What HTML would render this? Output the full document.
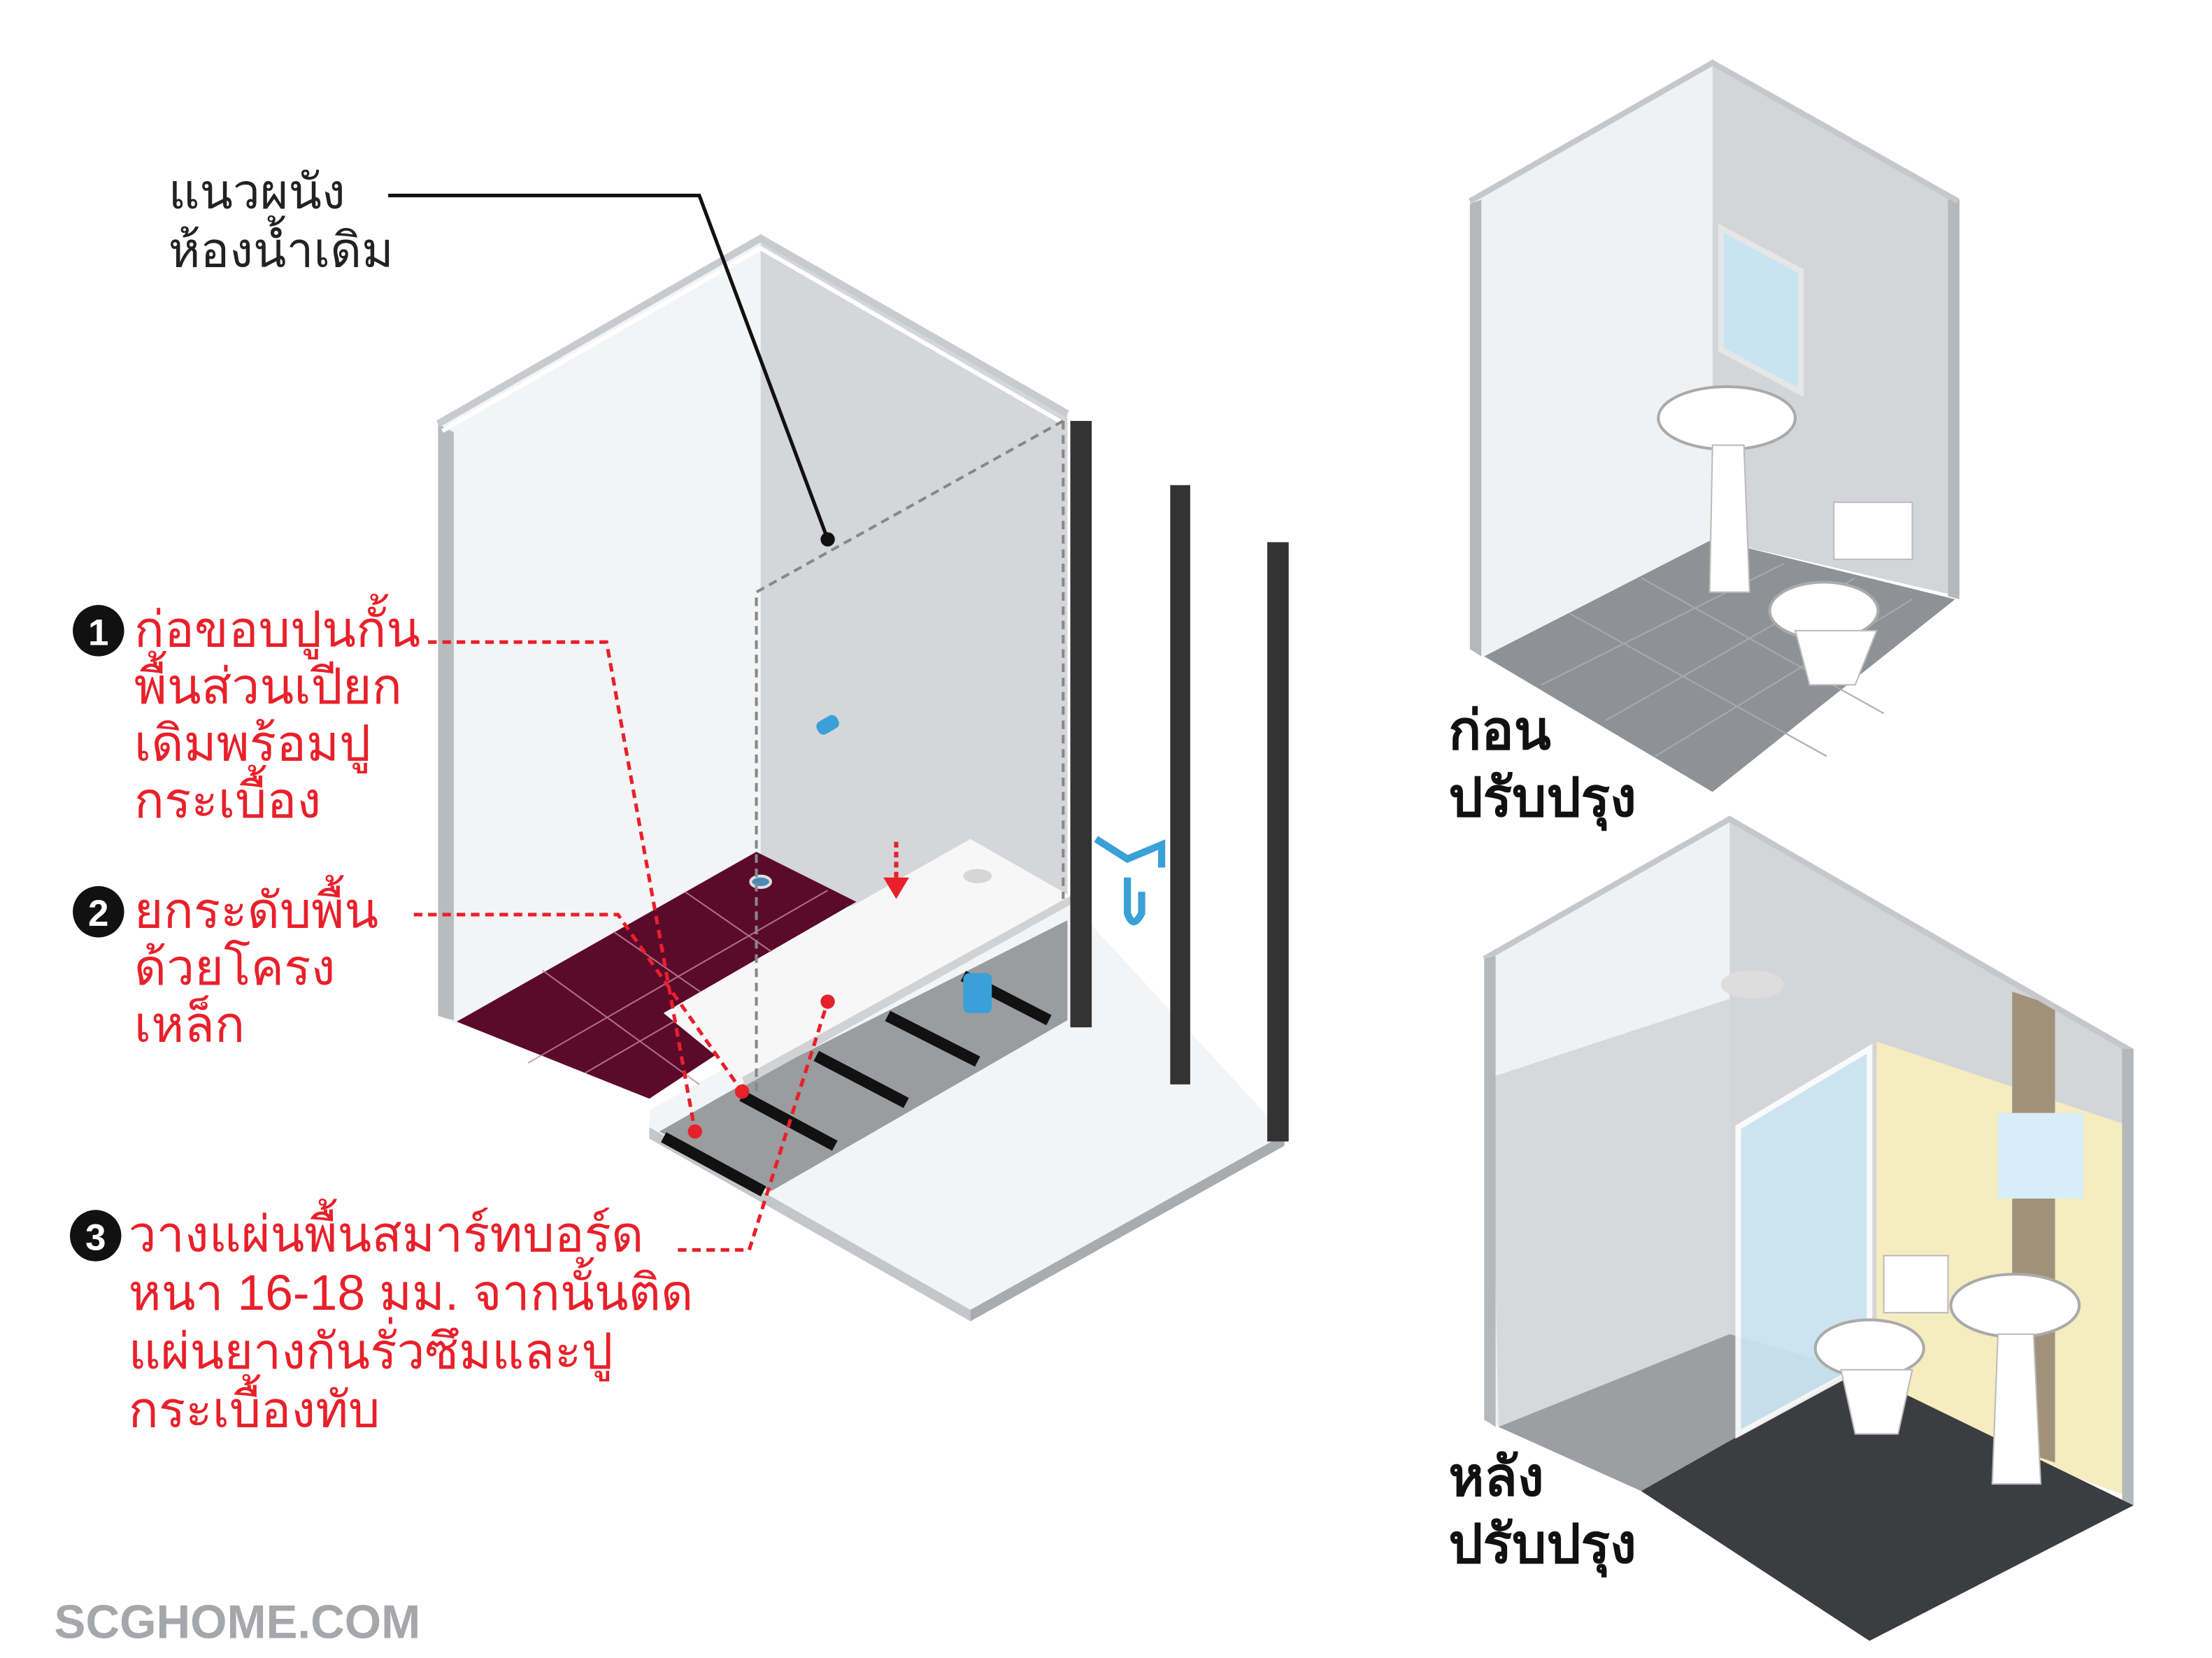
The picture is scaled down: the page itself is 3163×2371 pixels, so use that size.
<!DOCTYPE html>
<html><head><meta charset="utf-8"><style>
html,body{margin:0;padding:0;background:#fff;}
svg{display:block;}
.r{fill:#e8202a;font-family:"Liberation Sans","Noto Sans CJK SC",sans-serif;font-size:35px;}
.k{fill:#222;font-family:"Liberation Sans","Noto Sans CJK SC",sans-serif;font-size:34px;}
.b{fill:#111;font-family:"Liberation Sans","Noto Sans CJK SC",sans-serif;font-size:38px;font-weight:bold;}
</style></head><body>
<svg width="3163" height="2371" viewBox="0 0 1550 1162" preserveAspectRatio="none" xmlns="http://www.w3.org/2000/svg">
<!-- LEFT ROOM -->
<polygon points="307,297 533,167 533,600 320,718 307,712" fill="#f3f4f5"/>
<polygon points="307,297 318,303 318,715 307,712" fill="#b9bcbf"/>
<polygon points="533,167 748,290 748,720 533,600" fill="#d4d6d9"/>
<polyline points="307,297 533,167 748,290" fill="none" stroke="#c8cacd" stroke-width="5"/>
<polyline points="310,302 533,174 744,296" fill="none" stroke="#fff" stroke-width="3"/>
<!-- floor slab -->
<polygon points="455,778 533,735 748,630 900,795 680,918 455,790" fill="#f3f4f5"/>
<polygon points="455,790 680,918 680,926 455,798" fill="#c4c6c9"/>
<polygon points="680,918 900,795 900,803 680,926" fill="#a9acaf"/>
<!-- joists area -->
<polygon points="462,793 540,835 748,715 748,645 520,760" fill="#9a9c9f"/>
<g stroke="#111" stroke-width="8">
<line x1="465" y1="797" x2="535" y2="835"/>
<line x1="520" y1="768" x2="585" y2="803"/>
<line x1="572" y1="740" x2="635" y2="773"/>
<line x1="622" y1="712" x2="685" y2="744"/>
<line x1="675" y1="684" x2="735" y2="715"/>
</g>
<!-- maroon tiles -->
<polygon points="320,716 530,597 600,632 465,710 508,735 455,770" fill="#5b0a2a"/>
<g stroke="#c58a9d" stroke-width="1" opacity="0.8">
<line x1="370" y1="745" x2="580" y2="624"/><line x1="410" y1="752" x2="560" y2="665"/>
<line x1="380" y1="680" x2="490" y2="760"/><line x1="430" y1="653" x2="505" y2="705"/>
<line x1="480" y1="625" x2="545" y2="670"/>
</g>
<!-- white board -->
<polygon points="465,710 680,588 750,628 520,755" fill="#f7f7f8"/>
<polygon points="520,755 750,628 750,634 522,761" fill="#d0d2d4"/>
<ellipse cx="685" cy="614" rx="10" ry="5" fill="#d6d6d6"/>
<ellipse cx="533" cy="618" rx="7" ry="4" fill="#4a8bb5" stroke="#ddd" stroke-width="2"/>
<rect x="675" y="682" width="20" height="28" rx="4" fill="#3aa0d8"/>
<rect x="572" y="503" width="16" height="10" rx="4" fill="#3aa0d8" transform="rotate(-30 580 508)"/>
<path d="M768,588 L790,602 L814,592 L814,608 M790,615 L790,640 Q794,652 800,640 L800,625" fill="none" stroke="#3aa0d8" stroke-width="5"/>
<!-- posts -->
<rect x="750" y="295" width="15" height="425" fill="#333"/>
<rect x="820" y="340" width="14" height="420" fill="#333"/>
<rect x="888" y="380" width="15" height="420" fill="#333"/>
<!-- dashed old wall -->
<g stroke="#888" stroke-width="2" stroke-dasharray="6,4" fill="none">
<polyline points="745,295 530,415 530,765"/>
<line x1="745" y1="295" x2="745" y2="630"/>
</g>
<!-- red arrow -->
<line x1="628" y1="590" x2="628" y2="620" stroke="#e8202a" stroke-width="3" stroke-dasharray="4,3"/>
<polygon points="619,615 637,615 628,630" fill="#e8202a"/>
<!-- black leader -->
<polyline points="272,137 490,137 580,378" fill="none" stroke="#111" stroke-width="2.5"/>
<circle cx="580" cy="378" r="5" fill="#111"/>
<text class="k" x="118" y="146">แนวผนัง</text>
<text class="k" x="118" y="187">ห้องน้ำเดิม</text>
<!-- red leaders -->
<g stroke="#e8202a" stroke-width="2.5" stroke-dasharray="6,4" fill="none">
<polyline points="300,450 425,450 487,793"/>
<polyline points="290,641 433,641 520,765"/>
<polyline points="475,876 525,876 580,702"/>
</g>
<circle cx="487" cy="793" r="5" fill="#e8202a"/><circle cx="520" cy="765" r="5" fill="#e8202a"/><circle cx="580" cy="702" r="5" fill="#e8202a"/>
<g font-family="Liberation Sans,sans-serif" font-weight="bold" font-size="26" text-anchor="middle">
<circle cx="69" cy="442" r="18" fill="#111"/><text x="69" y="452" fill="#fff">1</text>
<circle cx="69" cy="639" r="18" fill="#111"/><text x="69" y="649" fill="#fff">2</text>
<circle cx="67" cy="866" r="18" fill="#111"/><text x="67" y="876" fill="#fff">3</text>
</g>
<text class="r" x="94" y="453">ก่อขอบปูนกั้น</text>
<text class="r" x="94" y="493">พื้นส่วนเปียก</text>
<text class="r" x="94" y="533">เดิมพร้อมปู</text>
<text class="r" x="94" y="573">กระเบื้อง</text>
<text class="r" x="94" y="650">ยกระดับพื้น</text>
<text class="r" x="94" y="690">ด้วยโครง</text>
<text class="r" x="94" y="730">เหล็ก</text>
<text class="r" x="90" y="877">วางแผ่นพื้นสมาร์ทบอร์ด</text>
<text class="r" x="90" y="918">หนา 16-18 มม. จากนั้นติด</text>
<text class="r" x="90" y="959">แผ่นยางกันรั่วซึมและปู</text>
<text class="r" x="90" y="1000">กระเบื้องทับ</text>
<text x="38" y="1148" font-family="Liberation Sans,sans-serif" font-weight="bold" font-size="33" fill="#a5a7aa">SCGHOME.COM</text>

<!-- TOP RIGHT ROOM -->
<polygon points="1030,140 1200,42 1200,378 1040,460 1030,455" fill="#f0f1f2"/>
<polygon points="1030,143 1038,140 1038,460 1030,455" fill="#b5b8bb"/>
<polygon points="1200,42 1373,140 1373,418 1200,378" fill="#d3d5d8"/>
<polygon points="1365,140 1373,140 1373,420 1365,418" fill="#b5b8bb"/>
<polyline points="1030,141 1200,44 1372,141" fill="none" stroke="#c5c7ca" stroke-width="4"/>
<polygon points="1040,460 1200,378 1370,420 1200,555" fill="#8e9195"/>
<g stroke="#a8abae" stroke-width="1"><line x1="1080" y1="480" x2="1250" y2="395"/><line x1="1125" y1="505" x2="1300" y2="405"/><line x1="1160" y1="530" x2="1340" y2="420"/><line x1="1100" y1="430" x2="1280" y2="530"/><line x1="1150" y1="405" x2="1320" y2="500"/></g>
<polygon points="1206,160 1262,190 1262,275 1206,245" fill="#c8e4f2" stroke="#e6e6e6" stroke-width="4"/>
<ellipse cx="1210" cy="293" rx="48" ry="22" fill="#fff" stroke="#aaa" stroke-width="2"/>
<polygon points="1200,312 1222,312 1226,415 1198,415" fill="#fff" stroke="#bbb"/>
<rect x="1285" y="352" width="55" height="40" fill="#fff" stroke="#bbb"/>
<ellipse cx="1278" cy="428" rx="38" ry="20" fill="#fff" stroke="#aaa" stroke-width="2"/>
<polygon points="1258,442 1315,442 1300,480 1268,480" fill="#fff" stroke="#bbb"/>
<text class="b" x="1015" y="525">ก่อน</text>
<text class="b" x="1015" y="572">ปรับปรุง</text>

<!-- BOTTOM RIGHT ROOM -->
<polygon points="1040,670 1212,572 1212,935 1050,1000 1040,995" fill="#f0f1f2"/>
<polygon points="1045,755 1212,700 1212,935 1050,1000" fill="#d7d8da"/>
<polygon points="1212,572 1495,735 1495,1050 1212,935" fill="#d3d5d8"/>
<polygon points="1315,730 1495,790 1495,1050 1315,985" fill="#f5ecc0"/>
<polygon points="1410,695 1440,705 1440,1025 1410,1015" fill="#a0927a"/>
<polyline points="1040,672 1212,574 1494,737" fill="none" stroke="#c5c7ca" stroke-width="4"/>
<polygon points="1040,672 1048,670 1048,1000 1040,995" fill="#b5b8bb"/>
<polygon points="1487,735 1495,735 1495,1055 1487,1052" fill="#b5b8bb"/>
<polygon points="1050,1000 1212,935 1300,960 1150,1045" fill="#9c9ea1"/>
<polygon points="1150,1045 1300,960 1495,1055 1310,1150" fill="#3b3d40"/>
<polygon points="1218,790 1310,735 1310,955 1218,1005" fill="#cbe6f3" stroke="#fff" stroke-width="4" opacity="0.9"/>
<ellipse cx="1228" cy="690" rx="22" ry="10" fill="#ddd"/>
<rect x="1400" y="780" width="60" height="60" fill="#d8edf7"/>
<ellipse cx="1310" cy="945" rx="38" ry="20" fill="#fff" stroke="#aaa" stroke-width="2"/>
<rect x="1320" y="880" width="45" height="40" fill="#fff" stroke="#bbb"/>
<polygon points="1290,960 1340,960 1330,1005 1300,1005" fill="#fff" stroke="#bbb"/>
<ellipse cx="1412" cy="915" rx="45" ry="22" fill="#fff" stroke="#aaa" stroke-width="2"/>
<polygon points="1400,935 1425,935 1430,1040 1396,1040" fill="#fff" stroke="#bbb"/>
<text class="b" x="1015" y="1048">หลัง</text>
<text class="b" x="1015" y="1095">ปรับปรุง</text>
</svg>
</body></html>
